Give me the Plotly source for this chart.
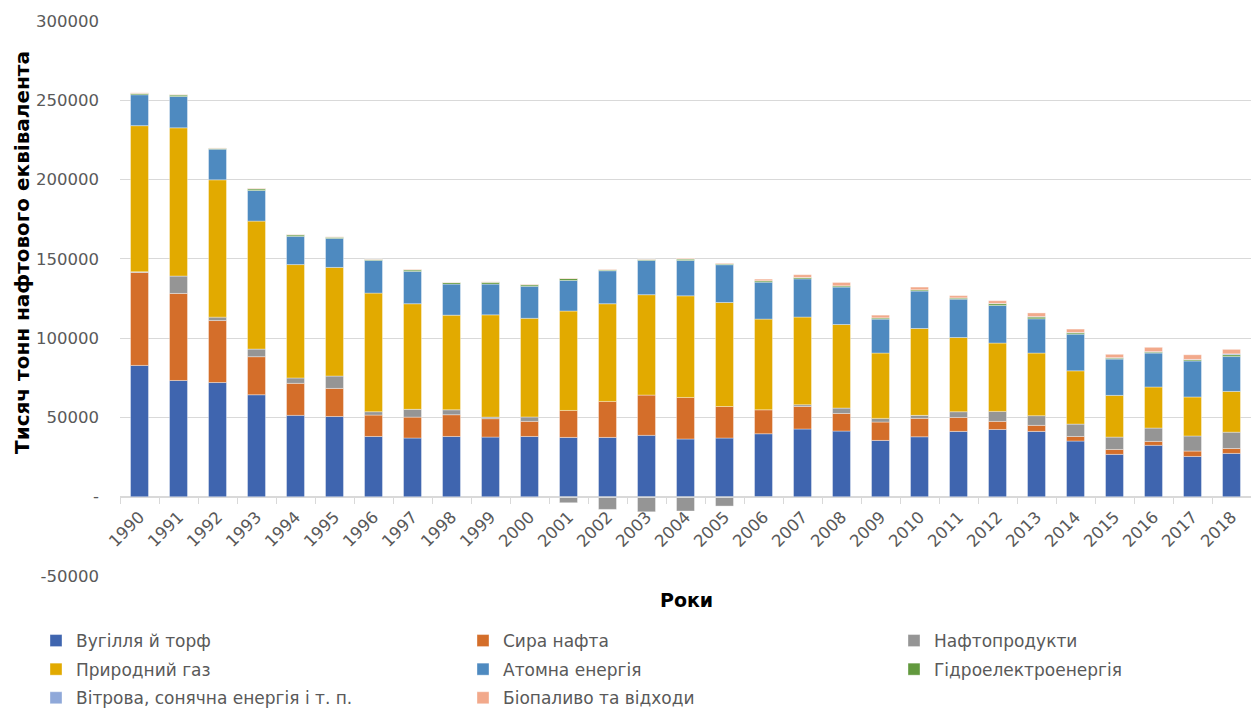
import plotly.graph_objects as go

years = [str(y) for y in range(1990, 2019)]

coal = [82800, 73300, 72000, 64300, 51300, 50600, 38000, 37000, 38000, 37600,
        38000, 37400, 37400, 38700, 36400, 37000, 39700, 42700, 41400, 35500,
        37800, 41200, 42400, 41200, 35100, 26700, 32400, 25400, 27300]
crude_oil = [58600, 54900, 39100, 24000, 20200, 17700, 13500, 13200, 13700, 11600,
             9500, 17000, 22700, 25400, 26200, 19900, 15100, 14200, 11100, 11600,
             11600, 8800, 5100, 3800, 2900, 3100, 2500, 3400, 3100]
oil_products = [500, 10950, 2150, 4800, 3400, 7800, 2100, 4900, 3100, 1000,
                2800, -3800, -8000, -9500, -9000, -5900, -800, 1100, 3400, 2300,
                1900, 3600, 6300, 6100, 7800, 7800, 8400, 9500, 10300]
natural_gas = [92100, 93500, 86600, 80700, 71500, 68500, 74800, 66600, 59700, 64500,
               62200, 62700, 61600, 63300, 64100, 65600, 57200, 55300, 52700, 41200,
               54800, 46800, 43100, 39500, 33600, 26300, 25900, 24600, 25700]
nuclear = [19500, 19750, 19300, 19300, 17800, 18300, 20600, 20400, 19600, 19400,
           20200, 19300, 20800, 21600, 22300, 23800, 23300, 24100, 23600, 21400,
           23600, 24200, 23700, 21600, 23100, 22900, 21400, 22700, 22000]
hydro = [900, 1000, 600, 1100, 1000, 800, 700, 1000, 1000, 1200,
         1000, 1200, 600, 700, 900, 600, 900, 900, 800, 800,
         800, 700, 1100, 1100, 800, 600, 600, 700, 1100]
wind_solar = [0, 0, 0, 0, 0, 0, 0, 0, 0, 0,
              0, 0, 0, 0, 0, 0, 0, 0, 0, 0,
              0, 100, 200, 300, 300, 300, 300, 300, 600]
biofuels = [300, 200, 200, 300, 200, 200, 200, 300, 200, 200,
            300, 300, 300, 200, 400, 400, 1000, 1700, 2100, 1700,
            1700, 1400, 1700, 2300, 2100, 2100, 2700, 2900, 2800]

# (name, values, colour, legend column)
series = [
    ("Вугілля й торф", coal, "#3F65AF", "legend"),
    ("Сира нафта", crude_oil, "#D46E2A", "legend2"),
    ("Нафтопродукти", oil_products, "#959595", "legend3"),
    ("Природний газ", natural_gas, "#E2AA00", "legend"),
    ("Атомна енергія", nuclear, "#4E8AC0", "legend2"),
    ("Гідроелектроенергія", hydro, "#62993E", "legend3"),
    ("Вітрова, сонячна енергія і т. п.", wind_solar, "#8FA8D9", "legend"),
    ("Біопаливо та відходи", biofuels, "#F2A98B", "legend2"),
]

y_ticks = [-50000, 0, 50000, 100000, 150000, 200000, 250000, 300000]
y_tick_text = ["-50000", "-", "50000", "100000", "150000", "200000", "250000", "300000"]
y_min, y_max = -50000, 300000

fig = go.Figure()
for i, (name, values, color, leg) in enumerate(series):
    fig.add_trace(go.Bar(
        x=years, y=values, name=name, legend=leg, legendgroup=f"g{i}",
        marker=dict(color=color, line=dict(color="rgba(255,255,255,0.6)", width=0.6)),
    ))

font_family = "DejaVu Sans, sans-serif"
grid = "#D9D9D9"

L, R, T, B = 120, 0, 21, 133
W, H = 1251, 709
plot_w, plot_h = W - L - R, H - T - B


def legend_style(x_px):
    return dict(
        orientation="v", xref="container", yref="container",
        x=x_px / W, y=1 - 623 / H, xanchor="left", yanchor="top",
        font=dict(size=17, color="#595959", family=font_family),
        tracegroupgap=3.5, itemclick=False, itemdoubleclick=False,
        bgcolor="rgba(0,0,0,0)",
    )


fig.update_layout(
    barmode="relative",
    bargap=0.54,
    width=W, height=H,
    margin=dict(l=L, r=R, t=T, b=B, autoexpand=False),
    plot_bgcolor="white", paper_bgcolor="white",
    font=dict(family=font_family, color="#595959", size=16.5),
    showlegend=True,
    xaxis=dict(
        type="category", anchor="free",
        position=(0 - y_min) / (y_max - y_min),
        tickangle=-45, tickfont=dict(size=16.5, color="#595959"),
        showgrid=False, showline=True, linecolor=grid, linewidth=1.3,
        ticks="outside", tickson="boundaries", ticklen=6, tickcolor=grid, tickwidth=1.3,
        zeroline=False, automargin=False, ticklabelstandoff=3,
    ),
    yaxis=dict(
        range=[y_min, y_max], tickvals=y_ticks, ticktext=y_tick_text,
        tickfont=dict(size=16.5, color="#595959"),
        showgrid=True, gridcolor=grid, gridwidth=1.3,
        zeroline=False, ticks="", automargin=False, ticklabelstandoff=20,
    ),
    legend=legend_style(36),
    legend2=legend_style(463),
    legend3=legend_style(894),
    annotations=[
        dict(text="<b>Роки</b>", xref="paper", yref="paper",
             x=(686 - L) / plot_w, y=(H - B - 600) / plot_h,
             showarrow=False, xanchor="center", yanchor="middle",
             font=dict(size=19, color="#000000", family=font_family)),
        dict(text="<b>Тисяч тонн нафтового еквівалента</b>", xref="paper", yref="paper",
             x=(22 - L) / plot_w, y=(H - B - 253) / plot_h, textangle=-90,
             showarrow=False, xanchor="center", yanchor="middle",
             font=dict(size=20, color="#000000", family=font_family)),
    ],
)

fig.write_html("out.html")
